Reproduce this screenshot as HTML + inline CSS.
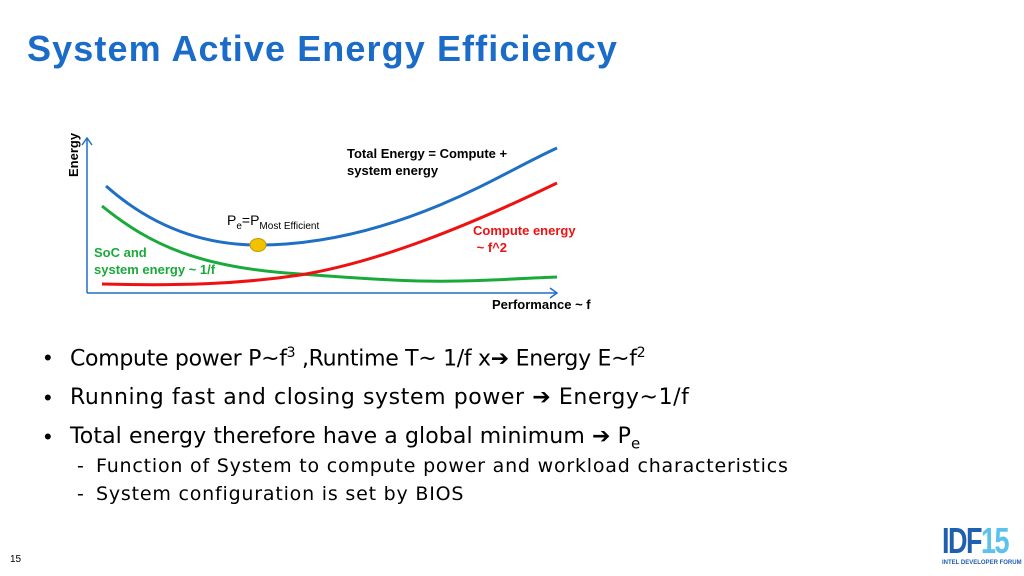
<!DOCTYPE html>
<html><head><meta charset="utf-8"><style>
body{margin:0;width:1024px;height:576px;background:#fff;position:relative;overflow:hidden;font-family:"Liberation Sans","DejaVu Sans",sans-serif;}
.t{position:absolute;white-space:nowrap;}
.b{font-family:"DejaVu Sans",sans-serif;font-size:22px;letter-spacing:0.6px;}
.s{font-family:"DejaVu Sans",sans-serif;font-size:19px;letter-spacing:0.8px;}
</style></head><body>
<div class="t" style="left:27px;top:28px;font-size:36px;letter-spacing:1.1px;font-weight:bold;color:#1a6cc8;">System Active Energy Efficiency</div>
<svg width="1024" height="576" style="position:absolute;left:0;top:0">
<g stroke="#1f6fc5" stroke-width="1.5" fill="none">
<line x1="87" y1="293" x2="87" y2="138"/><polyline points="82,145 87,138 92,145"/>
<line x1="87" y1="293" x2="557" y2="293"/><polyline points="550,288 557,293 550,298"/>
</g>
<path d="M102,206 C150,245 200,268 300,274 C380,280 420,282 460,281 C500,280 530,278 557,277" stroke="#1aaa3a" stroke-width="3" fill="none"/>
<path d="M102,284 C180,286 240,284 300,275 C380,262 470,225 557,183" stroke="#ee1111" stroke-width="3" fill="none"/>
<path d="M106,186 C150,225 200,245 258,245 C320,245 380,230 440,205 C490,184 520,165 557,148" stroke="#1f6fc5" stroke-width="3" fill="none"/>
<ellipse cx="258" cy="245" rx="8" ry="6.5" fill="#f2c200" stroke="#c49a00"/>
<text x="78" y="177" transform="rotate(-90 78 177)" font-size="13" font-weight="bold" font-family="Liberation Sans,sans-serif">Energy</text>
</svg>
<div class="t" style="left:347px;top:145px;font-size:13px;font-weight:bold;line-height:17px;">Total Energy = Compute +<br>system energy</div>
<div class="t" style="left:227px;top:212px;font-size:14px;">P<sub style="font-size:10px">e</sub>=P<sub style="font-size:10px">Most Efficient</sub></div>
<div class="t" style="left:473px;top:222px;font-size:13px;font-weight:bold;color:#ee1111;line-height:17px;">Compute energy<br>&nbsp;~ f^2</div>
<div class="t" style="left:94px;top:244px;font-size:13px;font-weight:bold;color:#1aaa3a;line-height:17px;">SoC and<br>system energy ~ 1/f</div>
<div class="t" style="left:492px;top:297px;font-size:13px;font-weight:bold;">Performance ~ f</div>
<div class="t" style="left:44px;top:345px;font-size:22px;">•</div>
<div class="t" style="left:44px;top:385px;font-size:22px;">•</div>
<div class="t" style="left:44px;top:424px;font-size:22px;">•</div>
<div class="t b" style="left:70px;top:345px;letter-spacing:-0.3px;">Compute power P~f<sup style="font-size:14px">3</sup> ,Runtime T~ 1/f x➔ Energy E~f<sup style="font-size:14px">2</sup></div>
<div class="t b" style="left:70px;top:385px;">Running fast and closing system power ➔ Energy~1/f</div>
<div class="t b" style="left:70px;top:424px;letter-spacing:0.1px;">Total energy therefore have a global minimum ➔ P<sub style="font-size:15px">e</sub></div>
<div class="t s" style="left:77px;top:455px;">-</div>
<div class="t s" style="left:77px;top:483px;">-</div>
<div class="t s" style="left:96px;top:455px;">Function of System to compute power and workload characteristics</div>
<div class="t s" style="left:96px;top:483px;">System configuration is set by BIOS</div>
<div class="t" style="left:10px;top:554px;font-size:10px;">15</div>
<div class="t" style="left:942px;top:520px;font-size:36px;font-weight:bold;color:#1f5fb0;letter-spacing:-2px;transform:scaleX(0.75);transform-origin:left;">IDF<span style="color:#5bc2ee">15</span></div>
<div class="t" style="left:942px;top:560px;font-size:6px;font-weight:bold;color:#1f5fb0;">INTEL DEVELOPER FORUM</div>
</body></html>
